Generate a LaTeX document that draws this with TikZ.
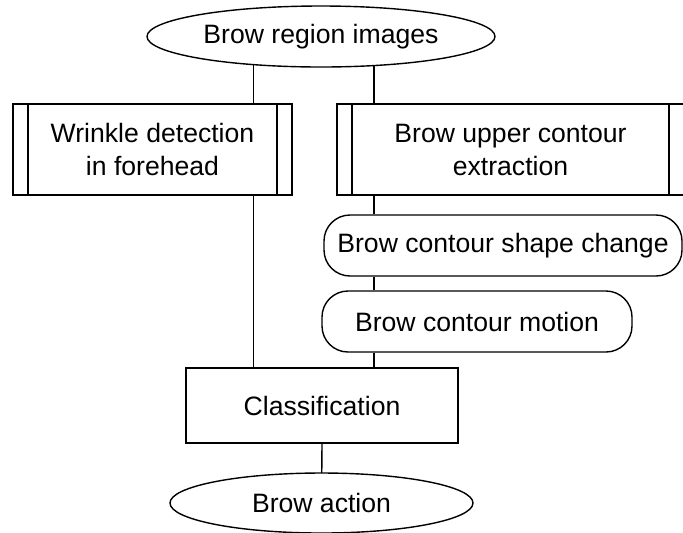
\documentclass[tikz,border=0pt]{standalone}
\usepackage{fontspec}
\setmainfont{Liberation Sans}
\usetikzlibrary{shapes.geometric,backgrounds}

\begin{document}
\begin{tikzpicture}[x=0.5pt,y=-0.5pt,
  font=\fontsize{13.3}{16.5}\selectfont,
  every node/.style={inner sep=0pt, align=center, line width=0.7pt},
  term/.style={draw, ellipse, fill=white},
  subproc/.style={draw, rectangle, fill=white,
    path picture={
      \draw ([xshift=7.5pt]path picture bounding box.north west) -- ([xshift=7.5pt]path picture bounding box.south west);
      \draw ([xshift=-7.5pt]path picture bounding box.north east) -- ([xshift=-7.5pt]path picture bounding box.south east);
    }},
  pill/.style={draw, rectangle, rounded corners=13pt, fill=white, minimum height=30.5pt},
  plain/.style={draw, rectangle, fill=white},
  link/.style={line width=0.7pt},
]
\clip (0,0) rectangle (683,532);

\node[term, minimum width=174pt, minimum height=30.5pt] (top) at (321,36.5) {Brow region images};
\node[subproc, minimum width=139.5pt, minimum height=45.5pt] (wrinkle) at (152.5,149.5) {Wrinkle detection\\in forehead};
\node[subproc, minimum width=173.5pt, minimum height=45.5pt] (contour) at (510.5,149.5) {Brow upper contour\\extraction};
\node[pill, minimum width=179pt] (shape) at (503,245.5) {Brow contour shape change};
\node[pill, minimum width=155pt] (motion) at (477,321.5) {Brow contour motion};
\node[plain, minimum width=136pt, minimum height=37.5pt] (classify) at (322,405.5) {Classification};
\node[term, minimum width=151.5pt, minimum height=30pt] (action) at (321.5,503) {Brow action};

% branch columns
\coordinate (lx) at (253.5,0);
\coordinate (rx) at (374,0);

\begin{scope}[on background layer]
\draw[link] (top.center -| lx) -- (wrinkle.north -| lx);
\draw[link] (top.center -| rx) -- (contour.north -| rx);
\draw[link] (wrinkle.south -| lx) -- (classify.north -| lx);
\draw[link] (contour.south -| rx) -- (shape.north -| rx);
\draw[link] (shape.south -| rx) -- (motion.north -| rx);
\draw[link] (motion.south -| rx) -- (classify.north -| rx);
\draw[link] (classify.south) -- (action.center);
\end{scope}

\end{tikzpicture}
\end{document}
